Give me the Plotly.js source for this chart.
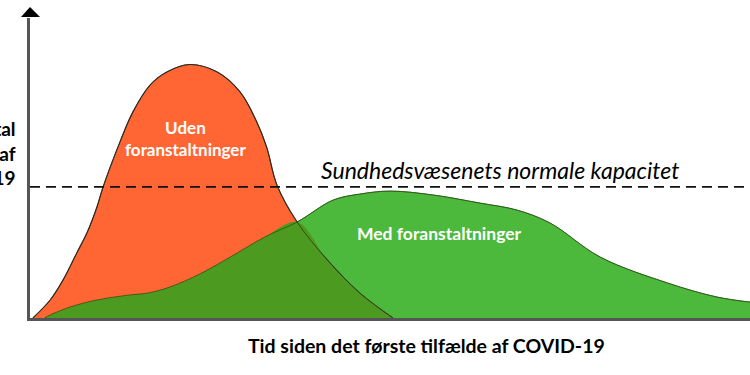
<!DOCTYPE html>
<html>
<head>
<meta charset="utf-8">
<script src="https://cdn.plot.ly/plotly-3.0.1.min.js"></script>
<style>html,body{margin:0;padding:0;background:#fff}#chart{width:750px;height:375px}</style>
</head>
<body>
<div id="chart"></div>
<script>
// Curve without measures (red)
const redX = [0.4, 2.8, 4.6, 6.5, 7.9, 9.3, 10.1, 12.5, 14.3, 16.7, 19.0, 22.2, 26.0, 29.2, 31.5, 32.9, 34.3, 37.1, 41.3, 45.8, 50.4];
const redY = [0, 6, 12.7, 21.7, 28.3, 37, 43.3, 58.7, 68.7, 77.7, 82, 84.5, 82, 75.3, 65.3, 56.7, 44.3, 32, 19.3, 8.3, 0];
// Curve with measures (green)
const greenX = [2.0, 2.8, 5.6, 9.3, 13.9, 16.3, 19.4, 23.6, 27.8, 32.6, 37.1, 42.1, 45.8, 50, 56, 62.5, 67.6, 72.2, 79.2, 88.5, 95.4, 100];
const greenY = [0, 1, 3.7, 6, 7.7, 8.3, 10.3, 14.7, 20.3, 27, 32, 39.3, 41.3, 42.3, 41, 38.3, 36, 31.7, 20.3, 11.7, 7, 5.3];
// Where the two curves cross
const crossX = 37.1;
// Health care capacity level
const capacity = 43.7;

const labels = {
  yTitle: "Antal<br>tilfælde af<br>COVID-19",
  xTitle: "Tid siden det første tilfælde af COVID-19",
  capacity: "Sundhedsvæsenets normale kapacitet",
  red: "Uden<br>foranstaltninger",
  green: "Med foranstaltninger"
};

const overlapX = [], overlapY = [];
greenX.forEach((x, i) => { if (x < crossX) { overlapX.push(x); overlapY.push(greenY[i]); } });
redX.forEach((x, i) => { if (x >= crossX) { overlapX.push(x); overlapY.push(redY[i]); } });

const spline = {shape: 'spline', smoothing: 1};
const traces = [
  {x: greenX, y: greenY, type: 'scatter', mode: 'lines', fill: 'tozeroy', fillcolor: '#4DB93C',
   line: Object.assign({color: '#3f8f2a', width: 1}, spline), hoverinfo: 'skip'},
  {x: redX, y: redY, type: 'scatter', mode: 'lines', fill: 'tozeroy', fillcolor: '#FF6633',
   line: Object.assign({color: '#333', width: 1.2}, spline), hoverinfo: 'skip'},
  {x: overlapX, y: overlapY, type: 'scatter', mode: 'lines', fill: 'tozeroy', fillcolor: '#4C9A1F',
   line: Object.assign({color: 'rgba(0,0,0,0)', width: 0}, spline), hoverinfo: 'skip'},
  {x: redX, y: redY, type: 'scatter', mode: 'lines',
   line: Object.assign({color: 'rgba(50,40,20,0.75)', width: 1}, spline), hoverinfo: 'skip'},
  {x: greenX, y: greenY, type: 'scatter', mode: 'lines',
   line: Object.assign({color: 'rgba(40,70,20,0.7)', width: 1}, spline), hoverinfo: 'skip'}
];

const layout = {
  width: 750, height: 375,
  margin: {l: 30, r: 0, t: 18, b: 57},
  paper_bgcolor: '#fff', plot_bgcolor: '#fff',
  showlegend: false,
  xaxis: {range: [0, 100], showgrid: false, zeroline: false, showticklabels: false, ticks: '',
          showline: true, linecolor: '#555', linewidth: 3, fixedrange: true},
  yaxis: {range: [0, 100], showgrid: false, zeroline: false, showticklabels: false, ticks: '',
          showline: true, linecolor: '#555', linewidth: 3, fixedrange: true},
  shapes: [
    {type: 'line', xref: 'paper', yref: 'y', x0: 0, x1: 1, y0: capacity, y1: capacity,
     line: {color: '#111', width: 1.6, dash: '10px,6px'}},
    {type: 'path', xref: 'paper', yref: 'paper',
     path: 'M -0.0125 1.0033 L 0.0139 1.0033 L 0 1.0367 Z',
     fillcolor: '#000', line: {width: 0}}
  ],
  annotations: [
    {text: '<b>' + labels.yTitle + '</b>', xref: 'paper', yref: 'paper', x: -0.0167, y: 0.55,
     xanchor: 'right', yanchor: 'middle', align: 'right', showarrow: false,
     font: {family: 'Lato', size: 19, color: '#000'}},
    {text: '<b>' + labels.xTitle + '</b>', xref: 'paper', yref: 'paper', x: 0.55, y: -0.09,
     xanchor: 'center', yanchor: 'middle', showarrow: false,
     font: {family: 'Lato', size: 19.5, color: '#000'}},
    {text: '<i>' + labels.capacity + '</i>', xref: 'paper', yref: 'y', x: 0.653, y: 49.3,
     xanchor: 'center', yanchor: 'middle', showarrow: false,
     font: {family: 'Lato', size: 23, color: '#000'}},
    {text: '<b>' + labels.red + '</b>', xref: 'x', yref: 'y', x: 21.6, y: 59.7,
     xanchor: 'center', yanchor: 'middle', showarrow: false,
     font: {family: 'Lato', size: 17, color: '#fff'}},
    {text: '<b>' + labels.green + '</b>', xref: 'x', yref: 'y', x: 56.9, y: 28.3,
     xanchor: 'center', yanchor: 'middle', showarrow: false,
     font: {family: 'Lato', size: 17.5, color: '#fff'}}
  ]
};

Plotly.newPlot('chart', traces, layout, {staticPlot: true, displayModeBar: false});
</script>
</body>
</html>
